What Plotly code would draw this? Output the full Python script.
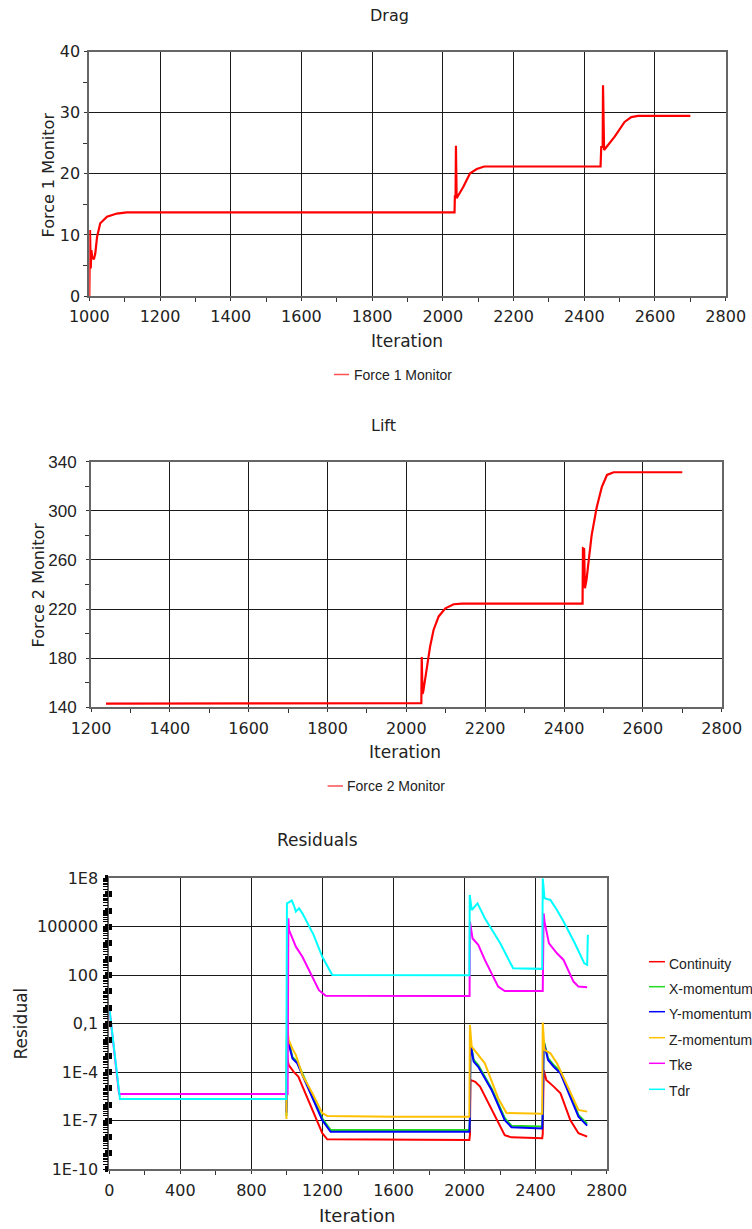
import plotly.graph_objects as go

W, H = 752, 1229

# ---------------- data ----------------
drag_iter = [1000, 1001, 1002, 1004, 1006, 1008, 1013, 1017, 1022, 1031, 1050, 1078, 1106, 1500,
             2033, 2034, 2036, 2037, 2039, 2058, 2077, 2096, 2117, 2300,
             2446, 2448, 2452, 2453, 2454, 2456, 2486, 2514, 2533, 2552, 2700]
drag_force = [0.0, 9.5, 10.8, 4.5, 7.5, 6.4, 6.0, 7.0, 9.7, 11.9, 13.0, 13.5, 13.7, 13.7,
              13.7, 16.3, 16.3, 24.6, 16.0, 17.9, 20.1, 20.8, 21.2, 21.2,
              21.2, 24.4, 24.4, 34.5, 28.8, 23.9, 26.1, 28.5, 29.3, 29.5, 29.5]

lift_iter = [1238, 1600, 2035, 2038, 2039, 2041, 2043, 2045, 2052, 2060, 2069, 2082, 2099, 2120, 2141, 2300,
             2447, 2448, 2451, 2453, 2457, 2461, 2470, 2483, 2496, 2509, 2526, 2700]
lift_force = [143.0, 143.0, 143.0, 143.3, 181.0, 151.0, 153.0, 157.0, 170.0, 189.0, 203.0, 214.0, 220.6, 223.9, 224.5, 224.5,
              224.5, 269.5, 269.0, 237.0, 243.6, 255.0, 280.0, 303.0, 319.6, 329.2, 331.4, 331.4]

continuity_iter = [1000, 1003, 1010, 1037, 1064, 1199, 1227, 1600, 2027, 2030, 2033, 2060, 2087, 2226, 2264,
                   2437, 2440, 2445, 2460, 2502, 2540, 2595, 2641, 2690]
continuity_res = [1.5e-3, 6.0e-4, 2.8e-4, 1.1e-4, 5.4e-5, 1.7e-8, 7.2e-9, 6.6e-9, 6.6e-9, 1.3e-8, 3.4e-5, 2.6e-5, 1.3e-5, 1.3e-8, 9.5e-9,
                  8.3e-9, 1.6e-8, 1.4e-4, 3.4e-5, 1.3e-5, 5.0e-6, 1.1e-7, 1.7e-8, 1.05e-8]

mom_iter = [997, 998, 1000, 1031, 1058, 1124, 1199, 1246, 1600, 2027, 2030, 2033, 2051, 2077, 2152, 2226, 2264,
            2437, 2440, 2445, 2470, 2502, 2540, 2595, 2641, 2690]
xmom_res = [2.0e-7, 1.0e-6, 2.0e-2, 9.0e-4, 4.5e-4, 1.0e-5, 1.4e-7, 2.7e-8, 2.7e-8, 2.7e-8, 1.6e-7, 8.0e-3, 6.0e-4, 2.8e-4, 1.0e-5, 1.5e-7, 5.0e-8,
            4.5e-8, 3.5e-7, 9.5e-3, 7.5e-4, 2.8e-4, 1.1e-4, 4.5e-6, 2.3e-7, 6.5e-8]
ymom_res = [3.2e-7, 1.3e-6, 1.6e-2, 7.2e-4, 3.6e-4, 8.1e-6, 1.1e-7, 2.1e-8, 2.1e-8, 2.1e-8, 1.4e-7, 6.3e-3, 4.6e-4, 2.2e-4, 8.1e-6, 1.1e-7, 4.0e-8,
            3.3e-8, 3.2e-7, 7.9e-3, 5.8e-4, 2.2e-4, 8.7e-5, 3.2e-6, 1.8e-7, 5.0e-8]

zmom_iter = [997, 1000, 1010, 1030, 1050, 1087, 1143, 1199, 1227, 1600, 2027, 2030, 2040, 2077, 2114, 2189, 2236,
             2437, 2440, 2450, 2483, 2520, 2595, 2641, 2690]
zmom_res = [1.3e-7, 8.5e-2, 1.0e-2, 3.0e-3, 1.2e-3, 6.8e-5, 5.0e-6, 3.0e-7, 2.0e-7, 1.8e-7, 1.8e-7, 8.5e-2, 3.9e-3, 1.2e-3, 3.6e-4, 2.5e-6, 3.0e-7,
            2.7e-7, 1.2e-1, 2.4e-3, 1.5e-3, 3.6e-4, 5.0e-6, 4.7e-7, 3.7e-7]

tke_iter = [0, 55, 1004, 1008, 1012, 1031, 1050, 1087, 1180, 1218, 1500, 2028, 2030, 2045, 2077, 2114, 2189, 2226,
            2440, 2445, 2450, 2475, 2520, 2557, 2613, 2641, 2690]
tke_res = [0.9, 4.6e-6, 4.6e-6, 3.4e5, 6.3e4, 2.0e4, 5.9e3, 1.4e3, 12.0, 5.5, 5.2, 5.2, 2.1e5, 1.9e4, 7.6e3, 890.0, 20.0, 10.7,
           10.7, 6.8e5, 2.1e5, 9.5e3, 2.3e3, 890.0, 41.0, 20.0, 18.0]

tdr_iter = [0, 60, 996, 1000, 1010, 1027, 1040, 1050, 1068, 1087, 1150, 1199, 1255, 1500, 1800, 2027, 2029, 2040, 2073, 2114,
            2200, 2273, 2437, 2440, 2450, 2483, 2520, 2557, 2620, 2674, 2690, 2694]
tdr_res = [1.0, 2.2e-6, 2.2e-6, 2.8e6, 3.2e6, 4.2e6, 2.0e6, 8.7e5, 1.4e6, 6.8e5, 3.2e4, 1.4e3, 105.0, 100.0, 100.0, 100.0, 9.3e6, 1.1e6, 2.8e6, 3.4e5,
           1.0e4, 270.0, 250.0, 1.0e8, 5.8e6, 4.6e6, 1.1e6, 2.1e5, 1.0e4, 550.0, 440.0, 3.2e4]

res_names = ["Continuity", "X-momentum", "Y-momentum", "Z-momentum", "Tke", "Tdr"]
res_colors = ["#ff0000", "#22dd22", "#0000ff", "#ffc000", "#ff00ff", "#00ffff"]

res_y_tickvals = [1e-10, 1e-7, 1e-4, 1e-1, 1e2, 1e5, 1e8]
res_y_ticktext = ["1E-10", "1E-7", "1E-4", "0,1", "100", "100000", "1E8"]
res_decades = [1e-10, 1e-9, 1e-8, 1e-7, 1e-6, 1e-5, 1e-4, 1e-3, 1e-2, 1e-1, 1e0, 1e1, 1e2, 1e3, 1e4, 1e5, 1e6, 1e7, 1e8]


# ---------------- helpers (layout in pixels) ----------------
def fx(x):
    return x / W


def fy(y):
    return 1 - y / H


TICKFONT = dict(family="DejaVu Sans", size=16, color="#222")


def axis_style(**kw):
    d = dict(showline=True, linecolor="#666", linewidth=2, mirror=True,
             showgrid=True, gridcolor="#1a1a1a", gridwidth=1, zeroline=False,
             ticks="outside", ticklen=3, tickcolor="#333", tickwidth=1,
             tickfont=TICKFONT, fixedrange=True, automargin=False)
    d.update(kw)
    return d


def overlay_axis(**kw):
    d = dict(overlaying="y3", anchor="x3", side="left", type="log", range=[-10, 8],
             showticklabels=False, showgrid=False, showline=False, zeroline=False, automargin=False,
             tickcolor="#000", fixedrange=True)
    d.update(kw)
    return d


fig = go.Figure()

# Drag
fig.add_trace(go.Scatter(x=drag_iter, y=drag_force, mode="lines", name="Force 1 Monitor",
                         line=dict(color="#ff0000", width=2.2), xaxis="x", yaxis="y", showlegend=False))
# Lift
fig.add_trace(go.Scatter(x=lift_iter, y=lift_force, mode="lines", name="Force 2 Monitor",
                         line=dict(color="#ff0000", width=2.2), xaxis="x2", yaxis="y2", showlegend=False))
# Residuals
res_series = [(continuity_iter, continuity_res), (mom_iter, xmom_res), (mom_iter, ymom_res),
              (zmom_iter, zmom_res), (tke_iter, tke_res), (tdr_iter, tdr_res)]
for name, col, (xs, ys) in zip(res_names, res_colors, res_series):
    fig.add_trace(go.Scatter(x=xs, y=ys, mode="lines", name=name, line=dict(color=col, width=2),
                             xaxis="x3", yaxis="y3", showlegend=False))
# empty traces to carry the tick-marker overlay axes
fig.add_trace(go.Scatter(x=[], y=[], mode="lines", xaxis="x3", yaxis="y4", showlegend=False, hoverinfo="skip"))
fig.add_trace(go.Scatter(x=[], y=[], mode="lines", xaxis="x3", yaxis="y5", showlegend=False, hoverinfo="skip"))

fig.update_layout(
    width=W, height=H,
    margin=dict(l=0, r=0, t=0, b=0, autoexpand=False),
    paper_bgcolor="white", plot_bgcolor="white",
    showlegend=False,
    xaxis=axis_style(domain=[fx(89.3), fx(725.7)], range=[1000, 2800], tick0=1000, dtick=200, anchor="y",
                     ticklabelstandoff=2,
                     minor=dict(dtick=100, tick0=1000, ticks="outside", ticklen=4, tickcolor="#333", showgrid=False)),
    yaxis=axis_style(domain=[fy(296), fy(51.7)], range=[0, 40], tick0=0, dtick=10, anchor="x",
                     ticklabelstandoff=1,
                     minor=dict(dtick=5, tick0=0, ticks="outside", ticklen=4, tickcolor="#333", showgrid=False)),
    xaxis2=axis_style(domain=[fx(91), fx(721.7)], range=[1200, 2800], tick0=1200, dtick=200, anchor="y2",
                      ticklabelstandoff=2,
                      minor=dict(dtick=100, tick0=1200, ticks="outside", ticklen=4, tickcolor="#333", showgrid=False)),
    yaxis2=axis_style(domain=[fy(707.3), fy(461.7)], range=[140, 340], tick0=140, dtick=40, anchor="x2",
                      ticklabelstandoff=6,
                      tickfont=dict(family="Liberation Sans, Arial, sans-serif", size=17, color="#222"),
                      minor=dict(dtick=20, tick0=140, ticks="outside", ticklen=4, tickcolor="#333", showgrid=False)),
    xaxis3=axis_style(domain=[fx(109.3), fx(606.7)], range=[0, 2800], tick0=0, dtick=400, anchor="y3",
                      ticklabelstandoff=2,
                      minor=dict(dtick=200, tick0=0, ticks="outside", ticklen=4, tickcolor="#333", showgrid=False)),
    yaxis3=axis_style(domain=[fy(1169.3), fy(878.3)], type="log", range=[-10, 8], anchor="x3",
                      tickmode="array", tickvals=res_y_tickvals, ticktext=res_y_ticktext,
                      ticks="inside", ticklen=3, tickwidth=6, tickcolor="#000", ticklabelstandoff=6,
                      minor=dict(tickmode="array", tickvals=res_decades, ticks="inside", ticklen=3,
                                 tickwidth=6, tickcolor="#000", showgrid=False)),
    yaxis4=overlay_axis(dtick=1, ticks="outside", ticklen=3, tickwidth=6),
    yaxis5=overlay_axis(dtick="D1", ticks="outside", ticklen=5, tickwidth=1),
)

ann = []
shapes = []


def text(x, y, s, size, family="DejaVu Sans", xanchor="center", angle=0, color="#222"):
    ann.append(dict(x=fx(x), y=fy(y), xref="paper", yref="paper", text=s, showarrow=False,
                    xanchor=xanchor, yanchor="middle", textangle=angle,
                    font=dict(family=family, size=size, color=color)))


# titles
text(390, 16, "Drag", 16)
text(384, 425, "Lift", 16)
text(317, 840, "Residuals", 17)
# axis titles
text(407, 341, "Iteration", 17)
text(405, 752, "Iteration", 17)
text(357, 1215, "Iteration", 18)
text(47.5, 175, "Force 1 Monitor", 16, angle=-90)
text(37.5, 585, "Force 2 Monitor", 16, angle=-90)
text(20.5, 1024, "Residual", 17, angle=-90)

# legends for force monitors
LEGFONT = "Liberation Sans, Arial, sans-serif"
shapes.append(dict(type="line", xref="paper", yref="paper", x0=fx(334), x1=fx(349), y0=fy(374.5), y1=fy(374.5),
                   line=dict(color="#ff5050", width=1.5)))
text(351.5, 374.5, "Force 1 Monitor", 14, family=LEGFONT, xanchor="left")
shapes.append(dict(type="line", xref="paper", yref="paper", x0=fx(327.6), x1=fx(343), y0=fy(786), y1=fy(786),
                   line=dict(color="#ff5050", width=1.5)))
text(344.5, 786, "Force 2 Monitor", 14, family=LEGFONT, xanchor="left")

# residual legend
leg_y = [961.7, 986.7, 1011.7, 1037.7, 1063.3, 1089.3]
for name, col, yy in zip(res_names, res_colors, leg_y):
    shapes.append(dict(type="line", xref="paper", yref="paper", x0=fx(649), x1=fx(665), y0=fy(yy), y1=fy(yy),
                       line=dict(color=col, width=1.5)))
    text(667, yy + 2, name, 14, family=LEGFONT, xanchor="left")

fig.update_layout(annotations=ann, shapes=shapes)

fig.write_html("out.html", config={"displayModeBar": False},
               post_script="document.body.style.margin='0';document.body.style.overflow='hidden';")
